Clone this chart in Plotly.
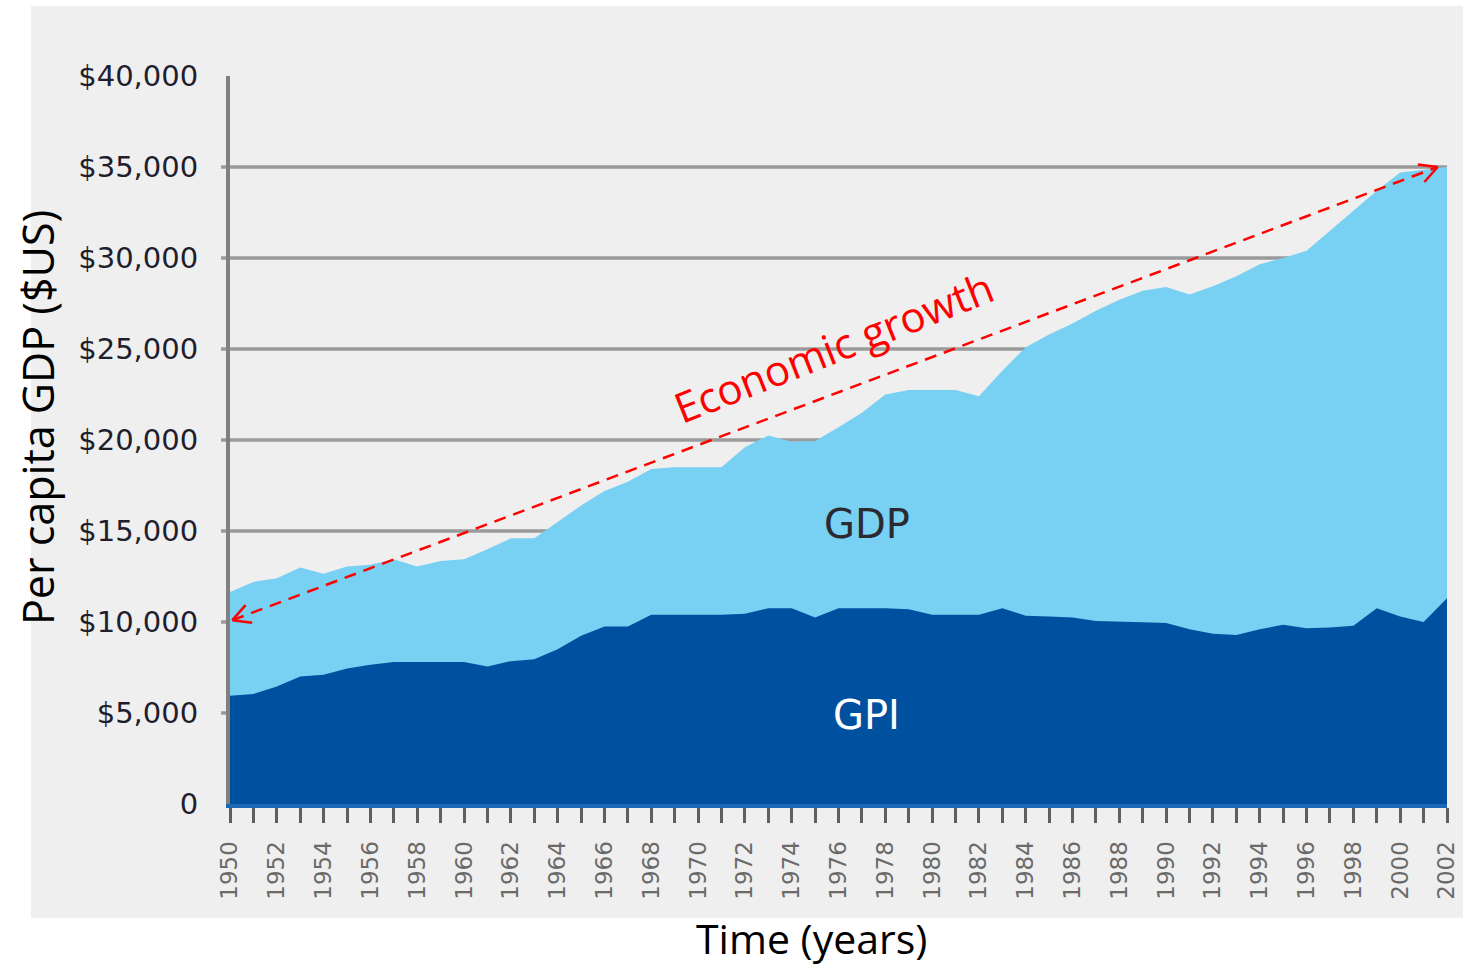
import math
import plotly.graph_objects as go

# ---- data -------------------------------------------------------------
YEARS = [1950, 1951, 1952, 1953, 1954, 1955, 1956, 1957, 1958, 1959,
         1960, 1961, 1962, 1963, 1964, 1965, 1966, 1967, 1968, 1969,
         1970, 1971, 1972, 1973, 1974, 1975, 1976, 1977, 1978, 1979,
         1980, 1981, 1982, 1983, 1984, 1985, 1986, 1987, 1988, 1989,
         1990, 1991, 1992, 1993, 1994, 1995, 1996, 1997, 1998, 1999,
         2000, 2001, 2002]

# per-capita GDP (US$)
GDP = [11650, 12200, 12400, 13000, 12650, 13050, 13150, 13450, 13050, 13350,
       13450, 14000, 14600, 14600, 15500, 16400, 17200, 17700, 18400, 18500,
       18500, 18500, 19600, 20250, 19900, 19950, 20700, 21500, 22500, 22750,
       22750, 22750, 22400, 23800, 25100, 25800, 26400, 27100, 27700, 28200,
       28400, 28000, 28450, 29000, 29650, 30000, 30400, 31500, 32600, 33700,
       34700, 34850, 35000]

# per-capita Genuine Progress Indicator (US$)
GPI = [5950, 6050, 6450, 7000, 7100, 7450, 7650, 7800, 7800, 7800,
       7800, 7550, 7850, 7950, 8500, 9250, 9750, 9750, 10400, 10400,
       10400, 10400, 10450, 10750, 10750, 10250, 10750, 10750, 10750, 10700,
       10400, 10400, 10400, 10750, 10350, 10300, 10250, 10050, 10000, 9980,
       9950, 9600, 9350, 9290, 9600, 9850, 9650, 9700, 9800, 10750,
       10300, 10000, 11300]

X_TICK_YEARS = [1950, 1952, 1954, 1956, 1958, 1960, 1962, 1964, 1966, 1968,
                1970, 1972, 1974, 1976, 1978, 1980, 1982, 1984, 1986, 1988,
                1990, 1992, 1994, 1996, 1998, 2000, 2002]
X_TICK_LABELS = [str(y) for y in X_TICK_YEARS]

Y_TICK_VALUES = [0, 5000, 10000, 15000, 20000, 25000, 30000, 35000, 40000]
Y_TICK_LABELS = ["0", "$5,000", "$10,000", "$15,000", "$20,000",
                 "$25,000", "$30,000", "$35,000", "$40,000"]
GRID_VALUES = [5000, 10000, 15000, 20000, 25000, 30000, 35000]

# growth arrow: from the 1950 level to the 2002 level
ARROW_START = (1950.1, 10100)
ARROW_END = (2001.6, 35000)

# ---- layout geometry --------------------------------------------------
W, H = 1463, 967
M_L, M_R, M_T, M_B = 230, 16, 76, 163
X_RANGE = [1950, 2002]
Y_RANGE = [0, 40000]
plot_w = W - M_L - M_R
plot_h = H - M_T - M_B
px_per_x = plot_w / (X_RANGE[1] - X_RANGE[0])
px_per_y = plot_h / (Y_RANGE[1] - Y_RANGE[0])


def px_to_paper(px, py):
    return (px - M_L) / plot_w, (H - M_B - py) / plot_h


LIGHT_BLUE = "#78D0F3"
DARK_BLUE = "#0050A0"
PANEL = "#EFEFEF"
GRID = "#9A9A9A"
RED = "#FF0000"

fig = go.Figure()

fig.add_trace(go.Scatter(
    x=YEARS, y=GDP, mode="lines", fill="tozeroy",
    fillcolor=LIGHT_BLUE, line=dict(width=0, color=LIGHT_BLUE),
    name="GDP", hoverinfo="x+y"))
fig.add_trace(go.Scatter(
    x=YEARS, y=GPI, mode="lines", fill="tozeroy",
    fillcolor=DARK_BLUE, line=dict(width=0, color=DARK_BLUE),
    name="GPI", hoverinfo="x+y"))

shapes = []

# grey panel behind the chart and its labels
p0 = px_to_paper(31, 918)
p1 = px_to_paper(1463, 6)
shapes.append(dict(type="rect", xref="paper", yref="paper",
                   x0=p0[0], y0=p0[1], x1=p1[0], y1=p1[1],
                   fillcolor=PANEL, line=dict(width=0), layer="below"))

# horizontal grid lines with short stubs left of the axis
stub = -9 / plot_w
for gv in GRID_VALUES:
    shapes.append(dict(type="line", xref="paper", yref="y",
                       x0=stub, x1=1, y0=gv, y1=gv,
                       line=dict(color=GRID, width=3.5), layer="below"))

# dashed growth arrow
shapes.append(dict(type="line", xref="x", yref="y",
                   x0=ARROW_START[0], y0=ARROW_START[1],
                   x1=ARROW_END[0], y1=ARROW_END[1],
                   line=dict(color=RED, width=2.5, dash="12px,8px"),
                   layer="above"))


def chevron(tip, other, arm_px=20, half_angle=28):
    """Two arm segments of an open arrow head at `tip`, pointing away from `other`."""
    dx = (other[0] - tip[0]) * px_per_x
    dy = -(other[1] - tip[1]) * px_per_y
    n = math.hypot(dx, dy)
    ux, uy = dx / n, dy / n
    arms = []
    for sgn in (1, -1):
        a = math.radians(half_angle) * sgn
        rx = ux * math.cos(a) - uy * math.sin(a)
        ry = ux * math.sin(a) + uy * math.cos(a)
        ex = tip[0] + rx * arm_px / px_per_x
        ey = tip[1] - ry * arm_px / px_per_y
        arms.append(dict(type="line", xref="x", yref="y",
                         x0=tip[0], y0=tip[1], x1=ex, y1=ey,
                         line=dict(color=RED, width=2.5), layer="above"))
    return arms


shapes += chevron(ARROW_START, ARROW_END)
shapes += chevron(ARROW_END, ARROW_START)

# ---- text -------------------------------------------------------------
ang = -math.degrees(math.atan2((ARROW_END[1] - ARROW_START[1]) * px_per_y,
                               (ARROW_END[0] - ARROW_START[0]) * px_per_x))

annotations = [
    dict(x=1977.2, y=15400, xref="x", yref="y", text="GDP", showarrow=False,
         font=dict(family="DejaVu Sans", size=40, color="#2a2a30")),
    dict(x=1977.2, y=4900, xref="x", yref="y", text="GPI", showarrow=False,
         font=dict(family="DejaVu Sans", size=40, color="#FFFFFF")),
    dict(x=1975.8, y=25150, xref="x", yref="y", text="Economic growth",
         showarrow=False, textangle=ang - 1,
         font=dict(family="Open Sans", size=42, color=RED)),
]
tx, ty = px_to_paper(811, 938)
annotations.append(dict(x=tx, y=ty, xref="paper", yref="paper",
                        text="Time (years)", showarrow=False,
                        xanchor="center", yanchor="middle",
                        font=dict(family="Open Sans", size=41, color="#000000")))
vx, vy = px_to_paper(37, 418)
annotations.append(dict(x=vx, y=vy, xref="paper", yref="paper",
                        text="Per capita GDP ($US)", showarrow=False,
                        textangle=-90, xanchor="center", yanchor="middle",
                        font=dict(family="Open Sans", size=43, color="#000000")))

fig.update_layout(
    width=W, height=H,
    margin=dict(l=M_L, r=M_R, t=M_T, b=M_B, pad=0, autoexpand=False),
    paper_bgcolor="#FFFFFF",
    plot_bgcolor="rgba(0,0,0,0)",
    showlegend=False,
    shapes=shapes,
    annotations=annotations,
    xaxis=dict(
        range=X_RANGE, showgrid=False, zeroline=False, automargin=False,
        showline=True, linecolor="#1B69B6", linewidth=4,
        tickmode="array", tickvals=X_TICK_YEARS, ticktext=X_TICK_LABELS,
        tickangle=-90, ticks="outside", ticklen=15, tickwidth=2.5,
        tickcolor="#5F5F5F", ticklabelstandoff=9,
        tickfont=dict(family="DejaVu Sans", size=23, color="#6A6A6A"),
        minor=dict(tickmode="linear", tick0=1950, dtick=1, ticks="outside",
                   ticklen=15, tickwidth=2.5, tickcolor="#5F5F5F",
                   showgrid=False),
    ),
    yaxis=dict(
        range=Y_RANGE, showgrid=False, zeroline=False, automargin=False,
        showline=True, linecolor="#808080", linewidth=4,
        tickmode="array", tickvals=Y_TICK_VALUES, ticktext=Y_TICK_LABELS,
        ticks="", ticklabelstandoff=22,
        tickfont=dict(family="DejaVu Sans", size=29, color="#1E1E2E"),
    ),
)

fig.write_html("out.html")
